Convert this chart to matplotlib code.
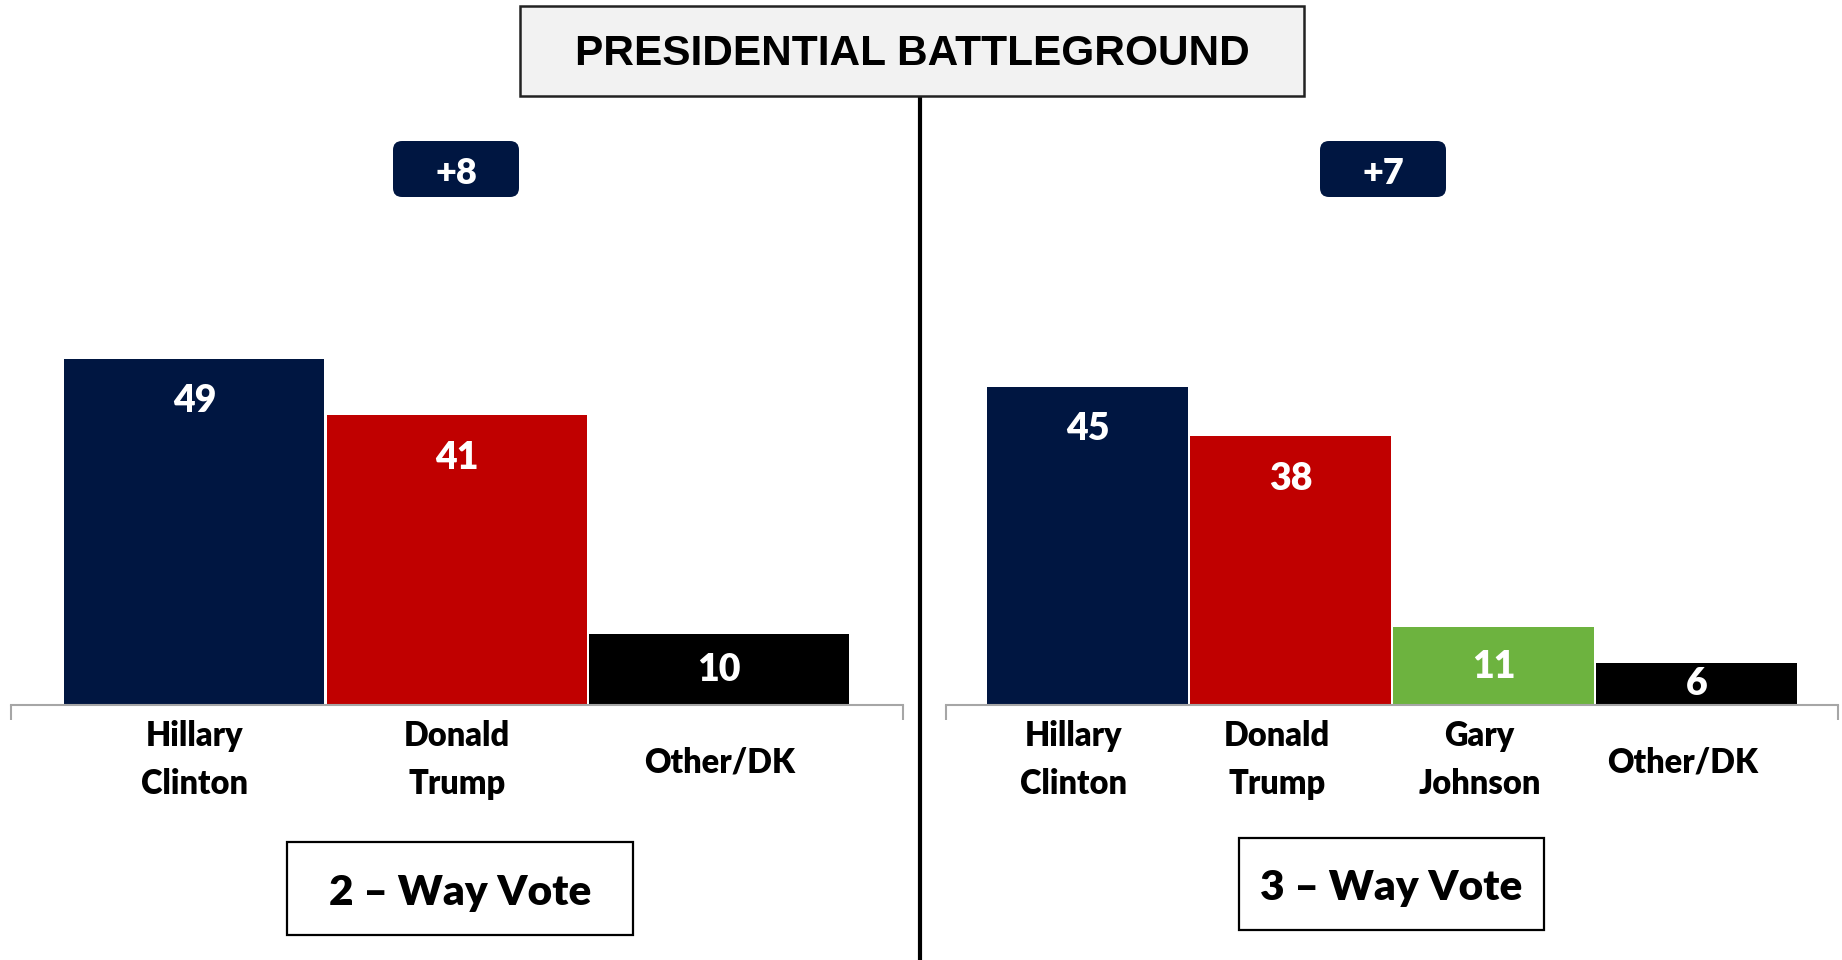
import matplotlib
matplotlib.use("Agg")
import matplotlib.pyplot as plt
from matplotlib.patches import FancyBboxPatch, Rectangle
from matplotlib.lines import Line2D

# ---- data ----
title = "PRESIDENTIAL BATTLEGROUND"
cats_2way = ["Hillary\nClinton", "Donald\nTrump", "Other/DK"]
vals_2way = [49, 41, 10]
cols_2way = ["#001641", "#C00000", "#000000"]
label_2way = "2 \u2013 Way Vote"

cats_3way = ["Hillary\nClinton", "Donald\nTrump", "Gary\nJohnson", "Other/DK"]
vals_3way = [45, 38, 11, 6]
cols_3way = ["#001641", "#C00000", "#6DB33F", "#000000"]
label_3way = "3 \u2013 Way Vote"

NAVY = "#001641"
FONT = "Lato"
TFONT = "Liberation Sans"
WEIGHT = "heavy"

W, H = 1842, 960
fig = plt.figure(figsize=(W / 100, H / 100), dpi=100)
fig.patch.set_facecolor("white")


def fx(px):
    return px / W


def fy(py):
    return 1 - py / H


def panel(left_px, right_px, cats, vals, cols, lab_shift=0.0, n_extra=0.7):
    base_px = 705
    px_per_unit = 7.07
    ymax = 60
    ax = fig.add_axes([fx(left_px), fy(base_px), fx(right_px) - fx(left_px),
                       ymax * px_per_unit / H])
    x = list(range(len(vals)))
    ax.bar(x, vals, width=0.99, color=cols, edgecolor="none", zorder=2)
    ax.set_xlim(-n_extra, len(vals) - 1 + n_extra)
    ax.set_ylim(0, ymax)
    for s in ["top", "left", "right"]:
        ax.spines[s].set_visible(False)
    ax.spines["bottom"].set_color("#A6A6A6")
    ax.spines["bottom"].set_linewidth(1.5)
    ax.set_yticks([])
    ax.set_xticks([])
    ax.set_xticks([-n_extra, len(vals) - 1 + n_extra], minor=True)
    ax.tick_params(axis="x", which="minor", length=11, width=1.5,
                   color="#A6A6A6", labelbottom=False)
    ax.patch.set_alpha(0)
    for xi, v in zip(x, vals):
        yl = max(v - 5.9, v / 2)
        ax.annotate(f"{v}", xy=(xi, yl), xytext=(0, -0.5),
                    textcoords="offset points", ha="center", va="center",
                    color="white", fontsize=27, fontweight=WEIGHT,
                    family=FONT, zorder=3)
    for xi, c in zip(x, cats):
        dy = -39.5 if "\n" in c else -41.5
        ax.annotate(c, xy=(xi, 0), xycoords=("data", "axes fraction"),
                    xytext=(lab_shift, dy), textcoords="offset points",
                    ha="center", va="center", fontsize=23.5, fontweight=WEIGHT,
                    family=FONT, linespacing=1.6)
    return ax


panel(10.6, 903, cats_2way, vals_2way, cols_2way)
panel(945.6, 1838.4, cats_3way, vals_3way, cols_3way, lab_shift=-10)

# vertical divider
fig.add_artist(Line2D([fx(920), fx(920)], [fy(96), 0], color="black",
                      lw=3, transform=fig.transFigure, zorder=1))

# title box
fig.add_artist(Rectangle((fx(520), fy(96)), fx(1304) - fx(520), fy(6) - fy(96),
                         facecolor="#F2F2F2", edgecolor="#222222", lw=1.8,
                         transform=fig.transFigure, zorder=2))
fig.text(fx(912), fy(54), title, ha="center", va="center", fontsize=30.5,
         fontweight="bold", family=TFONT, zorder=3)


# margin badges
def badge(x0, x1, y0, y1, txt):
    r = 9
    fig.add_artist(FancyBboxPatch((x0 + r, H - y1 + r), (x1 - x0) - 2 * r,
                                  (y1 - y0) - 2 * r,
                                  boxstyle=f"round,pad={r},rounding_size={r}",
                                  facecolor=NAVY, edgecolor="none",
                                  transform=None, zorder=2))
    fig.text(fx((x0 + x1) / 2), fy((y0 + y1) / 2 + 4), txt, ha="center",
             va="center", color="white", fontsize=26, fontweight=WEIGHT,
             family=FONT, zorder=3)


badge(393, 519, 141, 197, f"+{vals_2way[0] - vals_2way[1]}")
badge(1320, 1446, 141, 197, f"+{vals_3way[0] - vals_3way[1]}")


# bottom label boxes
def labbox(x0, x1, y0, y1, txt):
    fig.add_artist(Rectangle((fx(x0), fy(y1)), fx(x1) - fx(x0), fy(y0) - fy(y1),
                             facecolor="white", edgecolor="black", lw=1.6,
                             transform=fig.transFigure, zorder=2))
    fig.text(fx((x0 + x1) / 2), fy((y0 + y1) / 2 + 4), txt, ha="center",
             va="center", fontsize=30.5, fontweight=WEIGHT, family=FONT,
             zorder=3)


labbox(287, 633, 842, 935, label_2way)
labbox(1239, 1544, 838, 930, label_3way)

fig.savefig("out.png", dpi=100)
